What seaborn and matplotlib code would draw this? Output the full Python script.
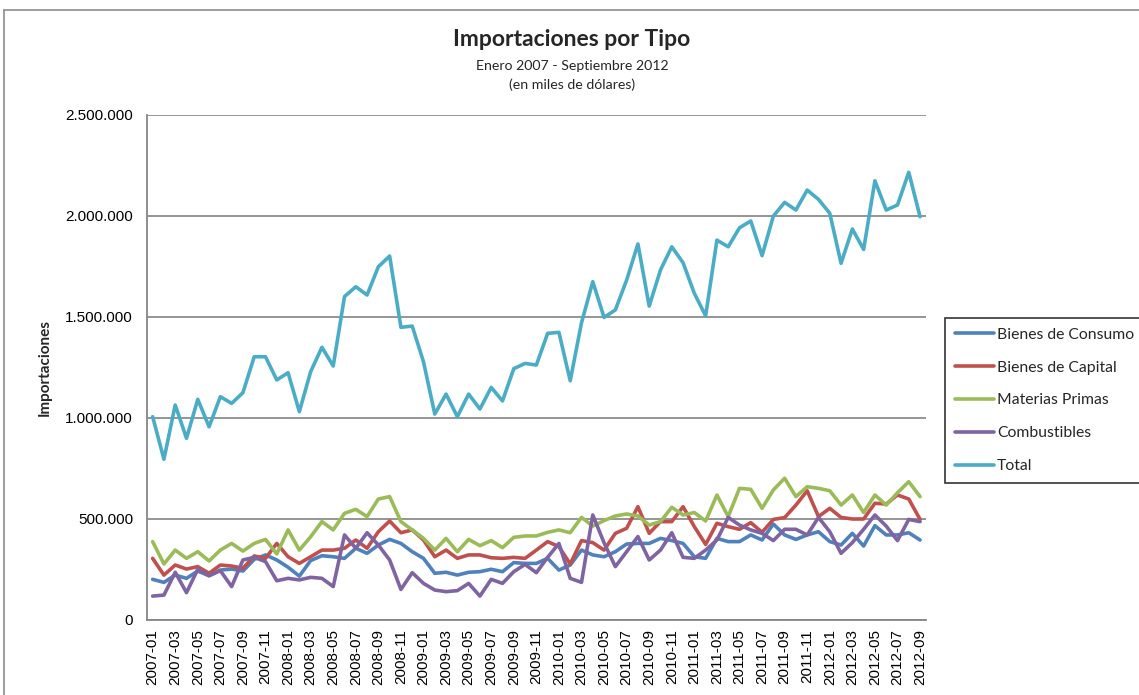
import numpy as np
import pandas as pd
import seaborn as sns
import matplotlib.pyplot as plt
from matplotlib.lines import Line2D
from matplotlib.ticker import FuncFormatter

# Datos (miles de dólares), enero 2007 - septiembre 2012
meses = pd.period_range('2007-01', '2012-09', freq='M').strftime('%Y-%m').tolist()

consumo = [199, 184, 220, 204, 240, 217, 245, 250, 240, 298, 320, 295, 259, 215, 292, 316, 311, 303,
           353, 328, 369, 397, 377, 336, 303, 229, 234, 220, 234, 237, 249, 237, 282, 278, 278, 303,
           245, 270, 344, 320, 311, 336, 374, 377, 377, 402, 391, 377, 311, 303, 402, 386, 386, 419,
           394, 473, 419, 397, 419, 435, 386, 369, 427, 364, 465, 419, 419, 430, 394]
capital = [303, 220, 270, 250, 262, 229, 270, 265, 254, 315, 303, 377, 311, 278, 311, 344, 344, 353,
           394, 353, 435, 488, 430, 444, 394, 311, 344, 303, 320, 320, 306, 303, 308, 303, 344, 386,
           361, 275, 391, 381, 344, 427, 452, 559, 427, 485, 485, 559, 460, 372, 477, 460, 447, 480,
           432, 496, 505, 567, 638, 510, 551, 506, 498, 498, 576, 572, 617, 597, 496]
materias = [386, 275, 344, 303, 336, 290, 344, 377, 339, 377, 397, 325, 444, 344, 410, 485, 444, 526,
            546, 510, 597, 609, 485, 444, 402, 344, 402, 336, 397, 366, 391, 356, 407, 414, 414, 432,
            444, 430, 506, 463, 490, 513, 523, 513, 468, 485, 556, 518, 530, 488, 617, 510, 650, 645,
            551, 642, 700, 609, 658, 650, 638, 567, 617, 530, 617, 567, 628, 683, 609]
combustibles = [116, 121, 234, 133, 249, 217, 242, 163, 295, 308, 287, 192, 204, 196, 209, 204, 163, 419,
                353, 430, 369, 295, 149, 232, 179, 146, 138, 143, 179, 116, 199, 179, 237, 273, 232, 308,
                377, 204, 184, 518, 380, 262, 336, 411, 295, 344, 430, 308, 303, 344, 394, 506, 468, 444,
                427, 391, 447, 447, 419, 506, 435, 328, 381, 447, 518, 463, 391, 496, 485]
total = [1005, 794, 1063, 898, 1091, 955, 1104, 1071, 1124, 1302, 1302, 1187, 1223, 1030, 1228, 1349,
         1256, 1600, 1649, 1608, 1748, 1801, 1448, 1454, 1277, 1018, 1117, 1005, 1117, 1043, 1150, 1083,
         1243, 1269, 1261, 1418, 1423, 1183, 1470, 1674, 1497, 1534, 1682, 1861, 1553, 1732, 1847, 1768,
         1616, 1505, 1880, 1847, 1941, 1975, 1803, 1999, 2067, 2029, 2128, 2082, 2013, 1765, 1935, 1834,
         2174, 2029, 2054, 2216, 1996]

series = ['Bienes de Consumo', 'Bienes de Capital', 'Materias Primas', 'Combustibles', 'Total']
colores = ['#4F81BD', '#C0504D', '#9BBB59', '#8064A2', '#4BACC6']

df = pd.DataFrame({'Mes': meses, 'Bienes de Consumo': consumo, 'Bienes de Capital': capital,
                   'Materias Primas': materias, 'Combustibles': combustibles, 'Total': total})
df['idx'] = range(len(meses))
largo = df.melt(id_vars=['Mes', 'idx'], value_vars=series, var_name='Tipo', value_name='Valor')
largo['Valor'] = largo['Valor'] * 1000

sns.set_style('white')
plt.rcParams['font.family'] = ['Liberation Sans', 'DejaVu Sans']

fig = plt.figure(figsize=(11.39, 6.95), dpi=100)
ax = fig.add_axes([147 / 1139, 1 - 619.5 / 695, 778.7 / 1139, 504.5 / 695])

sns.lineplot(data=largo, x='idx', y='Valor', hue='Tipo', hue_order=series,
             palette=colores, linewidth=2.6, ax=ax, legend=False)

ax.set_xlim(-0.5, len(meses) - 0.5)
ax.set_ylim(0, 2500000)
ax.set_yticks(np.arange(0, 2500001, 500000))
ax.yaxis.set_major_formatter(FuncFormatter(lambda v, p: f'{int(v):,}'.replace(',', '.')))
ax.set_xticks(range(0, len(meses), 2))
ax.set_xticklabels(meses[::2], rotation=90)
ax.tick_params(axis='both', labelsize=11, colors='black', length=4, width=1, direction='out')
ax.tick_params(axis='y', pad=6)
ax.tick_params(axis='x', pad=3)
ax.tick_params(axis='both', color='#868686')

ax.yaxis.grid(True, color='#8c8c8c', linewidth=1.3)
ax.set_axisbelow(True)
for s in ['top', 'right']:
    ax.spines[s].set_visible(False)
for s in ['left', 'bottom']:
    ax.spines[s].set_color('#868686')
    ax.spines[s].set_linewidth(1.3)

ax.set_xlabel('')
ax.set_ylabel('Importaciones', fontsize=11, fontweight='bold', family='Lato')
ax.yaxis.set_label_coords(-(147 - 52) / 778.7, 0.5)

fig.text(572 / 1139, 1 - 40 / 695, 'Importaciones por Tipo', ha='center', va='center',
         fontsize=16.5, fontweight='bold', family='Lato')
fig.text(572 / 1139, 1 - 66 / 695, 'Enero 2007 - Septiembre 2012', ha='center', va='center',
         fontsize=10.2, family='Lato')
fig.text(572 / 1139, 1 - 85 / 695, '(en miles de dólares)', ha='center', va='center',
         fontsize=10.2, family='Lato')

handles = [Line2D([0], [0], color=c, lw=2.6) for c in colores]
leg = fig.legend(handles, series, loc='upper left', bbox_to_anchor=(945 / 1139, 1 - 317.5 / 695),
                 frameon=True, fancybox=False, edgecolor='black', handlelength=2.5,
                 handletextpad=0.15, labelspacing=1.2, borderpad=0.65, borderaxespad=0,
                 prop={'family': 'Lato', 'size': 11.3})
leg.get_frame().set_linewidth(1.2)

# borde del área del gráfico
fig.add_artist(Line2D([4 / 1139, 4 / 1139], [0, 1 - 10 / 695], color='#8c8c8c', lw=1.2))
fig.add_artist(Line2D([4 / 1139, 1], [1 - 10 / 695, 1 - 10 / 695], color='#8c8c8c', lw=1.2))

fig.savefig('out.png', dpi=100)
